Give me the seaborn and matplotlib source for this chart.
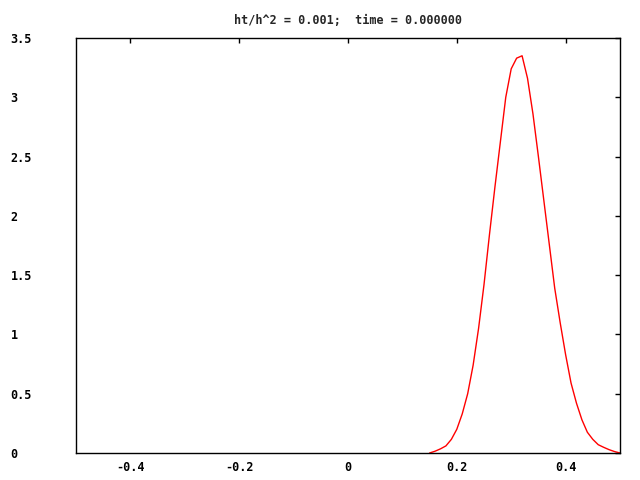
import matplotlib
matplotlib.use("Agg")
import matplotlib.pyplot as plt
import seaborn as sns
import pandas as pd

# profile u(x) at time 0 (step 0.01)
x_vals = [0.15, 0.16, 0.17, 0.18, 0.19, 0.20, 0.21, 0.22, 0.23, 0.24,
          0.25, 0.26, 0.27, 0.28, 0.29, 0.30, 0.31, 0.32, 0.33, 0.34,
          0.35, 0.36, 0.37, 0.38, 0.39, 0.40, 0.41, 0.42, 0.43, 0.44,
          0.45, 0.46, 0.47, 0.48, 0.49, 0.50]
u_vals = [0.0, 0.015, 0.035, 0.06, 0.115, 0.20, 0.33, 0.50, 0.74, 1.05,
          1.42, 1.84, 2.24, 2.62, 3.00, 3.24, 3.33, 3.35, 3.16, 2.86,
          2.50, 2.13, 1.76, 1.39, 1.10, 0.83, 0.59, 0.42, 0.28, 0.175,
          0.115, 0.07, 0.048, 0.028, 0.012, 0.0]

x_ticks = [-0.4, -0.2, 0, 0.2, 0.4]
x_labels = ["-0.4", "-0.2", "0", "0.2", "0.4"]
y_ticks = [0, 0.5, 1, 1.5, 2, 2.5, 3, 3.5]
y_labels = ["0", "0.5", "1", "1.5", "2", "2.5", "3", "3.5"]
title = "ht/h^2 = 0.001;  time = 0.000000"

df = pd.DataFrame({"x": x_vals, "u": u_vals})

sns.set_theme(style="white")
plt.rcParams['font.family'] = ['DejaVu Sans Mono', 'DejaVu Sans']
plt.rcParams['font.weight'] = 'bold'

fig = plt.figure(figsize=(6.4, 4.8), dpi=100)
ax = fig.add_axes([76/640, 27/480, 544/640, 415/480])

sns.lineplot(data=df, x="x", y="u", color="red", linewidth=1, ax=ax)

ax.set_xlim(-0.5, 0.5)
ax.set_ylim(0, 3.5)
ax.set_xticks(x_ticks)
ax.set_xticklabels(x_labels)
ax.set_yticks(y_ticks)
ax.set_yticklabels(y_labels)
ax.set_xlabel("")
ax.set_ylabel("")

for s in ax.spines.values():
    s.set_color("black")
    s.set_linewidth(1)

ax.tick_params(axis="both", direction="in", length=3.5, width=1, color="black",
               top=True, right=True, labelsize=8.5, labelcolor="black")
ax.tick_params(axis="x", pad=6)
ax.tick_params(axis="y", pad=47)
for lab in ax.get_yticklabels():
    lab.set_horizontalalignment("left")

ax.set_title(title, fontsize=8.5, fontweight="bold", pad=10)

fig.savefig("out.png", dpi=100)
